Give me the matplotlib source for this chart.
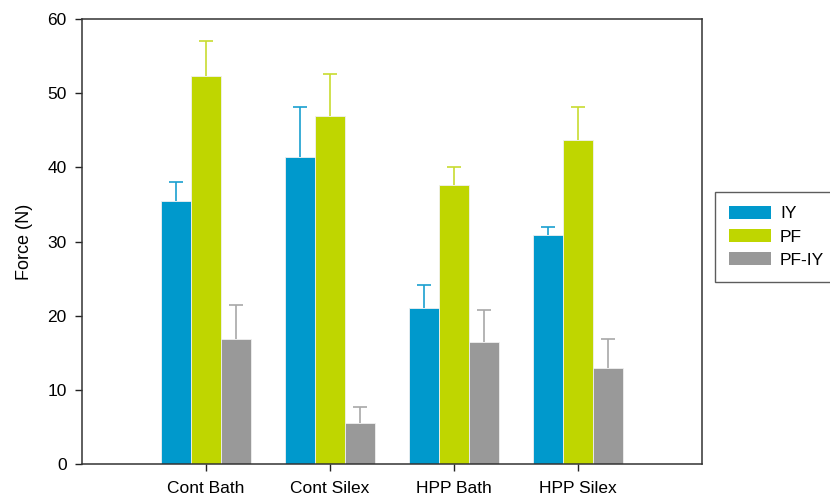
import matplotlib
matplotlib.use("Agg")
import matplotlib.pyplot as plt
import numpy as np

plt.rcParams['font.family'] = ['Liberation Sans', 'DejaVu Sans']

categories = ["Cont Bath", "Cont Silex", "HPP Bath", "HPP Silex"]
series = ["IY", "PF", "PF-IY"]
iy_mean = [35.5, 41.4, 21.1, 30.9]
iy_err = [2.5, 6.7, 3.1, 1.1]
pf_mean = [52.3, 46.9, 37.6, 43.7]
pf_err = [4.7, 5.7, 2.4, 4.4]
pfiy_mean = [16.9, 5.5, 16.5, 12.9]
pfiy_err = [4.6, 2.2, 4.2, 3.9]

means = [iy_mean, pf_mean, pfiy_mean]
errs = [iy_err, pf_err, pfiy_err]
colors = ["#0099cc", "#bfd600", "#999999"]
err_colors = ["#1a9fd0", "#c8dc30", "#a8a8a8"]

fig = plt.figure(figsize=(8.3, 4.97), dpi=100)
ax = fig.add_axes([82 / 830, 1 - 464 / 497, (702 - 82) / 830, (464 - 19) / 497])

x = np.arange(len(categories))
width = 0.242
handles = []
for i, (m, e, c, ec) in enumerate(zip(means, errs, colors, err_colors)):
    pos = x + (i - 1) * width
    b = ax.bar(pos, m, width, color=c, edgecolor="#f0f0f0", linewidth=0.6,
               label=series[i], zorder=2)
    # upper error bars only
    _, caps, _ = ax.errorbar(pos, m, yerr=[np.zeros(len(e)), e], fmt="none",
                             ecolor=ec, elinewidth=1.2, capsize=4.7,
                             capthick=1.2, zorder=3)
    caps[0].set_visible(False)
    handles.append(b)

ax.set_xlim(-1, 4)
ax.set_ylim(0, 60)
ax.set_yticks(range(0, 61, 10))
ax.set_xticks(x)
ax.set_xticklabels(categories)
ax.tick_params(axis="both", direction="out", length=5, width=1, labelsize=12.5,
               colors="#222222", labelcolor="black")
ax.tick_params(axis="y", pad=6)
ax.tick_params(axis="x", pad=7)
ax.set_ylabel("Force (N)", fontsize=13, labelpad=10)
for s in ax.spines.values():
    s.set_color("#333333")
    s.set_linewidth(1.1)

leg = fig.legend(handles=handles, labels=series, loc="upper left",
                 bbox_to_anchor=(715 / 830, 1 - 192 / 497),
                 fontsize=12.5, frameon=True, fancybox=False,
                 handlelength=2.4, handleheight=0.75, borderpad=0.8,
                 labelspacing=0.45, handletextpad=0.55, borderaxespad=0)
leg.get_frame().set_edgecolor("#333333")
leg.get_frame().set_linewidth(1.0)
for p in leg.get_patches():
    p.set_edgecolor("none")

fig.savefig("out.png", dpi=100)
